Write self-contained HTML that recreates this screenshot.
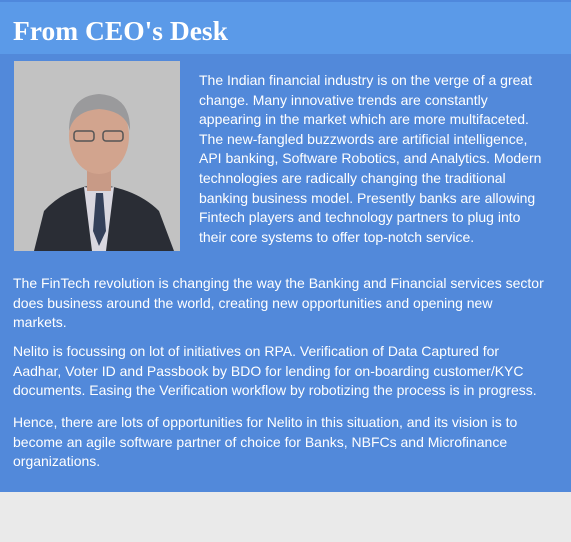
<!DOCTYPE html>
<html><head><meta charset="utf-8"><style>
body{margin:0;width:571px;height:542px;background:#eaeaea;font-family:"Liberation Sans",Arial,sans-serif;overflow:hidden}
#panel{position:absolute;left:0;top:0;width:571px;height:492px;background:#5289da}
#hdr{position:absolute;left:0;top:0;width:571px;height:54px;background:#5b9ae8;border-top:2px solid #4f88dc;box-sizing:border-box}
#hdr h1{margin:0;position:absolute;left:13px;top:13px;font-family:"Liberation Serif",Georgia,serif;font-weight:bold;font-size:27.5px;color:#fff;line-height:32px}
#photo{position:absolute;left:14px;top:61px;width:166px;height:190px}
.t{position:absolute;color:#fff;font-size:14px;line-height:19.6px;white-space:nowrap}
</style></head><body>
<div id="panel">
<div id="hdr"><h1>From CEO's Desk</h1></div>
<svg id="photo" viewBox="0 0 166 190">
<rect width="166" height="190" fill="#c2c2c2"/>
<path d="M20 190 L30 150 Q50 128 80 124 L90 124 Q125 130 145 150 L160 190Z" fill="#2a2d35"/>
<path d="M70 126 L85 128 L100 126 L92 190 L78 190Z" fill="#d9d7e0"/>
<path d="M82 132 L89 132 L92 170 L85 185 L79 170Z" fill="#34405a"/>
<rect x="73" y="100" width="24" height="30" fill="#c89a86"/>
<ellipse cx="85" cy="75" rx="30" ry="38" fill="#d2a48e"/>
<path d="M55 70 Q55 35 85 33 Q117 35 116 70 Q112 50 85 48 Q60 50 55 70Z" fill="#9a9a9c"/>
<rect x="60" y="70" width="20" height="10" rx="3" fill="none" stroke="#555" stroke-width="1.5"/>
<rect x="89" y="70" width="20" height="10" rx="3" fill="none" stroke="#555" stroke-width="1.5"/>
</svg>
<div class="t" style="left:199px;top:71px">The Indian financial industry is on the verge of a great<br>change. Many innovative trends are constantly<br>appearing in the market which are more multifaceted.<br>The new-fangled buzzwords are artificial intelligence,<br>API banking, Software Robotics, and Analytics. Modern<br>technologies are radically changing the traditional<br>banking business model. Presently banks are allowing<br>Fintech players and technology partners to plug into<br>their core systems to offer top-notch service.</div>
<div class="t" style="left:13px;top:274px">The FinTech revolution is changing the way the Banking and Financial services sector<br>does business around the world, creating new opportunities and opening new<br>markets.</div>
<div class="t" style="left:13px;top:342px">Nelito is focussing on lot of initiatives on RPA. Verification of Data Captured for<br>Aadhar, Voter ID and Passbook by BDO for lending for on-boarding customer/KYC<br>documents. Easing the Verification workflow by robotizing the process is in progress.</div>
<div class="t" style="left:13px;top:413px">Hence, there are lots of opportunities for Nelito in this situation, and its vision is to<br>become an agile software partner of choice for Banks, NBFCs and Microfinance<br>organizations.</div>
</div>
</body></html>
